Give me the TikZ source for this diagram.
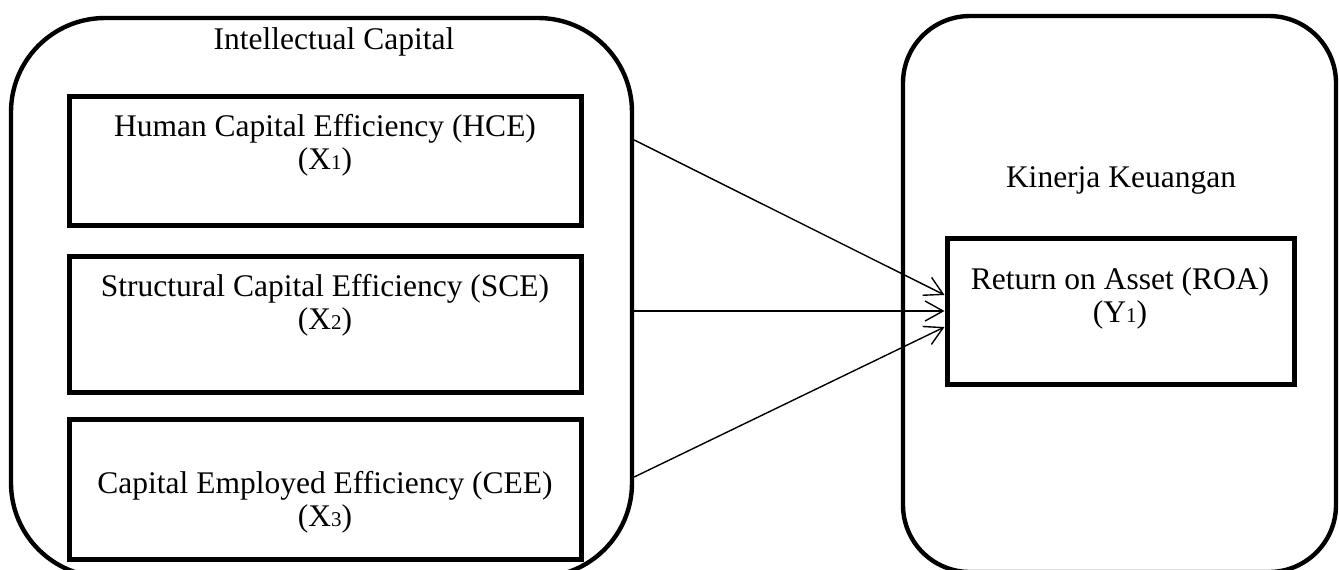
\documentclass[tikz,border=0pt]{standalone}
\usepackage{fontspec}
\setmainfont{Liberation Serif}
\usetikzlibrary{arrows.meta}

\newcommand{\lowidx}[1]{{\fontsize{10.5pt}{10.5pt}\selectfont #1}}

\begin{document}
\begin{tikzpicture} [
  x = .5pt,
  y = -.5pt,
  every node/.style = {font = \fontsize{15.75pt}{16.5pt}\selectfont},
  group/.style = {draw, line width = 2.2pt, rounded corners = 47pt},
  var/.style = {draw, line width = 2.5pt},
  caption/.style = {inner sep = 0pt, align = center},
  link/.style = {-{Straight Barb[length = 9pt, width = 10pt]}, line width = .7pt},
]
\useasboundingbox (0, 0) rectangle (1339, 569);

% the two groups
\node [group, minimum width = 310.5pt, minimum height = 279.5pt] (ic) at (321.5, 297.5) {};
\node [group, minimum width = 216.5pt, minimum height = 278pt, rounded corners = 33.5pt] (kk) at (1119.5, 294) {};
\node [caption, anchor = base] (ictxt) at (334, 49) {Intellectual Capital};
\node [caption, anchor = base] (kktxt) at (1121, 187) {Kinerja Keuangan};

% the variables
\node [var, minimum width = 256pt, minimum height = 64.5pt] (hce) at (325, 160.5) {};
\node [var, minimum width = 256pt, minimum height = 68pt] (sce) at (325, 324) {};
\node [var, minimum width = 256pt, minimum height = 70pt] (cee) at (325, 489) {};
\node [var, minimum width = 173.5pt, minimum height = 73pt] (roa) at (1120.5, 311) {};
\node [caption] (hcetxt) at (325, 145) {Human Capital Efficiency (HCE)\\(X\lowidx{1})};
\node [caption] (scetxt) at (325, 305) {Structural Capital Efficiency (SCE)\\(X\lowidx{2})};
\node [caption] (ceetxt) at (325, 502) {Capital Employed Efficiency (CEE)\\(X\lowidx{3})};
\node [caption] (roatxt) at (1120, 298) {Return on Asset (ROA)\\(Y\lowidx{1})};

% the links
\draw [link] (ic.east |- 0, 140) -- ([yshift = 8pt] roa.west);
\draw [link] (ic.east |- 0, 311) -- (roa.west);
\draw [link] (ic.east |- 0, 477) -- ([yshift = -8pt] roa.west);
\end{tikzpicture}
\end{document}
